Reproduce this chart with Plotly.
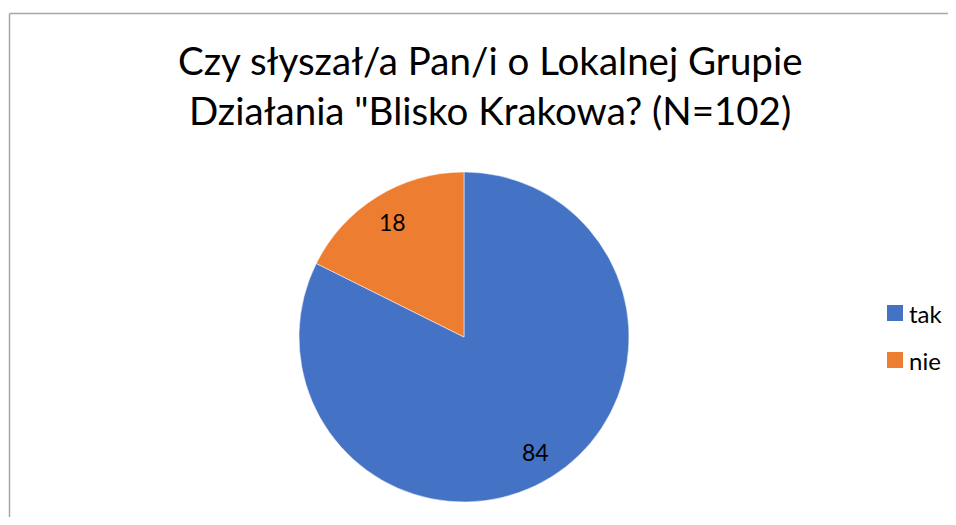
import math
import plotly.graph_objects as go

# data
title_lines = ["Czy słyszał/a Pan/i o Lokalnej Grupie", "Działania \"Blisko Krakowa? (N=102)"]
labels = ["tak", "nie"]
values = [84, 18]
colors = ["#4472C4", "#ED7D31"]

OFF = 8  # page body margin shifts the figure by 8px
W, H = 956 - 2 * OFF, 525 - 2 * OFF  # keep the page inside the window (no scrollbars)


def px(x):
    return (x - OFF) / W


def py(y):
    return 1 - (y - OFF) / H


# pie geometry (screen pixels)
cx, cy, R = 464, 337, 165

fig = go.Figure()

fig.add_trace(go.Pie(
    labels=labels,
    values=values,
    sort=False,
    direction="clockwise",
    rotation=0,
    marker=dict(colors=colors, line=dict(color="white", width=0.5)),
    textinfo="none",
    domain=dict(x=[px(cx - R), px(cx + R)], y=[py(cy + R), py(cy - R)]),
    showlegend=False,
    hoverinfo="label+value+percent",
))

# data labels placed like Excel, at ~0.82 of the radius
total = sum(values)
start = 0.0
for v in values:
    mid = (start + v / 2) / total * 2 * math.pi
    start += v
    lx = cx + 0.82 * R * math.sin(mid)
    ly = cy - 0.82 * R * math.cos(mid)
    fig.add_annotation(text=str(v), x=px(lx), y=py(ly), xref="paper", yref="paper",
                       xanchor="center", yanchor="middle", showarrow=False,
                       font=dict(family="Lato", size=23, color="black"))

# title, one annotation per line for the wide line spacing
for i, line in enumerate(title_lines):
    fig.add_annotation(
        text=line,
        x=px(490), y=py(60 + i * 50), xref="paper", yref="paper",
        xanchor="center", yanchor="middle", showarrow=False,
        font=dict(family="Lato", size=38.5, color="black"),
    )

# legend, drawn by hand to get the wide spacing
for i, (lab, col) in enumerate(zip(labels, colors)):
    yc = 313 + i * 47
    fig.add_shape(type="rect", xref="paper", yref="paper",
                  x0=px(887), x1=px(903), y0=py(yc + 8), y1=py(yc - 8),
                  fillcolor=col, line=dict(width=0))
    fig.add_annotation(text=lab, x=px(907), y=py(yc), xref="paper", yref="paper",
                       xanchor="left", yanchor="middle", showarrow=False,
                       font=dict(family="Lato", size=24, color="black"))

# chart frame: only left and top edges are visible
frame = dict(color="#A6A6A6", width=1.5)
fig.add_shape(type="line", xref="paper", yref="paper",
              x0=px(9.5), x1=px(9.5), y0=py(13.5), y1=0, line=frame)
fig.add_shape(type="line", xref="paper", yref="paper",
              x0=px(9.5), x1=1, y0=py(13.5), y1=py(13.5), line=frame)

fig.update_layout(
    width=W, height=H,
    margin=dict(l=0, r=0, t=0, b=0),
    paper_bgcolor="white",
    plot_bgcolor="white",
)

fig.write_html("out.html", config={"displayModeBar": False})
